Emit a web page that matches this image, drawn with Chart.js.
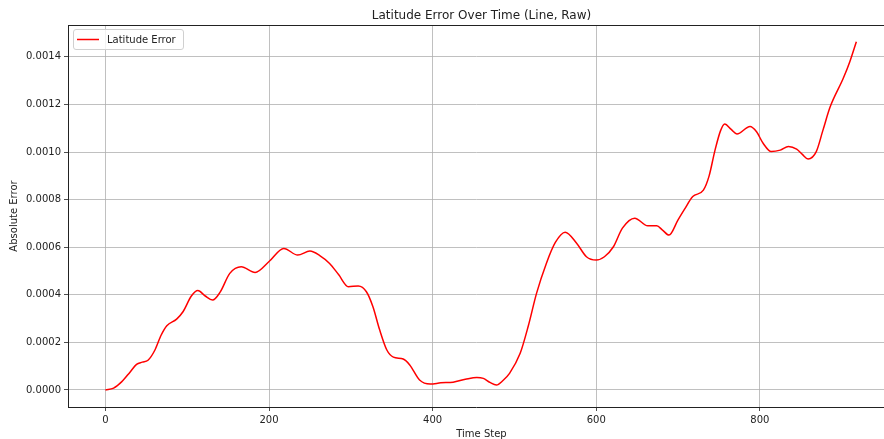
<!DOCTYPE html>
<html>
<head>
<meta charset="utf-8">
<script src="https://cdn.jsdelivr.net/npm/chart.js@4.4.1/dist/chart.umd.min.js"></script>
<style>
html,body{margin:0;padding:0;background:#fff;}
#wrap{width:884px;height:439px;position:relative;}
</style>
</head>
<body>
<div id="wrap"><canvas id="c" width="884" height="439"></canvas></div>
<script>
const chartTitle = "Latitude Error Over Time (Line, Raw)";
const xAxisTitle = "Time Step";
const yAxisTitle = "Absolute Error";
const seriesName = "Latitude Error";

const timeSteps = [0,10,20,30,38,45,52,60,68,75,87,95,105,113,122,131,140,152,166,183,200,218,235,250,262,274,285,297,309,319,327,335,344,352,364,372,384,397,410,425,440,454,462,470,478,486,494,507,517,527,539,550,562,576,588,600,610,621,632,647,663,674,681,689,700,708,718,731,738,745,752,757,765,772,788,796,804,814,825,835,845,852,859,869,877,886,902,910,918];
const latErrors = [0.000000,0.000008,0.000035,0.000075,0.000108,0.000117,0.000125,0.000165,0.000230,0.000270,0.000298,0.000330,0.000395,0.000418,0.000395,0.000378,0.000410,0.000490,0.000518,0.000494,0.000540,0.000595,0.000567,0.000584,0.000565,0.000532,0.000485,0.000434,0.000437,0.000413,0.000350,0.000255,0.000168,0.000138,0.000130,0.000105,0.000042,0.000025,0.000030,0.000033,0.000045,0.000053,0.000049,0.000032,0.000021,0.000040,0.000070,0.000154,0.000270,0.000406,0.000532,0.000620,0.000663,0.000617,0.000560,0.000546,0.000560,0.000602,0.000680,0.000722,0.000690,0.000690,0.000672,0.000651,0.000715,0.000760,0.000813,0.000840,0.000900,0.001005,0.001090,0.001118,0.001095,0.001076,0.001107,0.001085,0.001037,0.001002,0.001008,0.001023,0.001012,0.000990,0.000971,0.001002,0.001090,0.001190,0.001310,0.001380,0.001464];

const xTicks = [0,200,400,600,800];
const yTicks = [0,0.0002,0.0004,0.0006,0.0008,0.0010,0.0012,0.0014];

const FONT = "'DejaVu Sans', sans-serif";
const TEXT = '#222';

const points = timeSteps.map((t,i)=>({x:t,y:latErrors[i]}));

const decor = {
  id:'decor',
  afterDraw(chart){
    const ctx = chart.ctx, ca = chart.chartArea;
    ctx.save();
    // top spine
    ctx.strokeStyle = '#222'; ctx.lineWidth = 1;
    ctx.beginPath(); ctx.moveTo(ca.left, ca.top+0.5); ctx.lineTo(ca.right, ca.top+0.5); ctx.stroke();
    // title
    const axCenter = 481.5;
    ctx.fillStyle = TEXT;
    ctx.font = "12px " + FONT;
    ctx.textAlign = 'center'; ctx.textBaseline = 'alphabetic';
    ctx.fillText(chartTitle, axCenter, 19);
    // x axis title
    ctx.font = "10px " + FONT;
    ctx.fillText(xAxisTitle, axCenter, 437);
    // y axis title
    ctx.save();
    ctx.translate(17, (ca.top+ca.bottom)/2);
    ctx.rotate(-Math.PI/2);
    ctx.fillText(yAxisTitle, 0, 0);
    ctx.restore();
    // legend
    const bx = 73.5, by = 29.5, bw = 110, bh = 20, r = 2.5;
    ctx.fillStyle = 'rgba(255,255,255,0.8)';
    ctx.strokeStyle = '#d0d0d0'; ctx.lineWidth = 1;
    ctx.beginPath();
    ctx.moveTo(bx+r,by); ctx.lineTo(bx+bw-r,by); ctx.quadraticCurveTo(bx+bw,by,bx+bw,by+r);
    ctx.lineTo(bx+bw,by+bh-r); ctx.quadraticCurveTo(bx+bw,by+bh,bx+bw-r,by+bh);
    ctx.lineTo(bx+r,by+bh); ctx.quadraticCurveTo(bx,by+bh,bx,by+bh-r);
    ctx.lineTo(bx,by+r); ctx.quadraticCurveTo(bx,by,bx+r,by);
    ctx.closePath(); ctx.fill(); ctx.stroke();
    ctx.strokeStyle = 'red'; ctx.lineWidth = 1.5;
    ctx.beginPath(); ctx.moveTo(77, 39.5); ctx.lineTo(99, 39.5); ctx.stroke();
    ctx.fillStyle = TEXT; ctx.textAlign = 'left'; ctx.textBaseline = 'middle';
    ctx.font = "10px " + FONT;
    ctx.fillText(seriesName, 107, 40);
    ctx.restore();
  }
};

new Chart(document.getElementById('c'), {
  type:'line',
  data:{datasets:[{label:seriesName,data:points,borderColor:'red',borderWidth:1.5,pointRadius:0,fill:false,cubicInterpolationMode:'monotone'}]},
  options:{
    responsive:false, animation:false, devicePixelRatio:1,
    layout:{padding:{top:25,left:0,right:0,bottom:0}},
    plugins:{legend:{display:false},title:{display:false},tooltip:{enabled:false}},
    scales:{
      x:{type:'linear',min:-45.8,max:951.8,
        afterBuildTicks(s){s.ticks = xTicks.map(v=>({value:v}));},
        afterFit(s){s.height = 32;},
        grid:{color:'#b0b0b0',lineWidth:0.8,drawTicks:true,tickLength:4,tickColor:'#222'},
        border:{color:'#222',width:1},
        ticks:{color:TEXT,font:{family:FONT,size:10},padding:3,maxRotation:0,callback:v=>String(v)}
      },
      y:{type:'linear',min:-0.0000715,max:0.001534,
        afterBuildTicks(s){s.ticks = yTicks.map(v=>({value:v}));},
        afterFit(s){s.width = 68;},
        grid:{color:'#b0b0b0',lineWidth:0.8,drawTicks:true,tickLength:4,tickColor:'#222'},
        border:{color:'#222',width:1},
        ticks:{color:TEXT,font:{family:FONT,size:10},padding:3,callback:v=>Number(v).toFixed(4)}
      }
    }
  },
  plugins:[decor]
});
</script>
</body>
</html>
